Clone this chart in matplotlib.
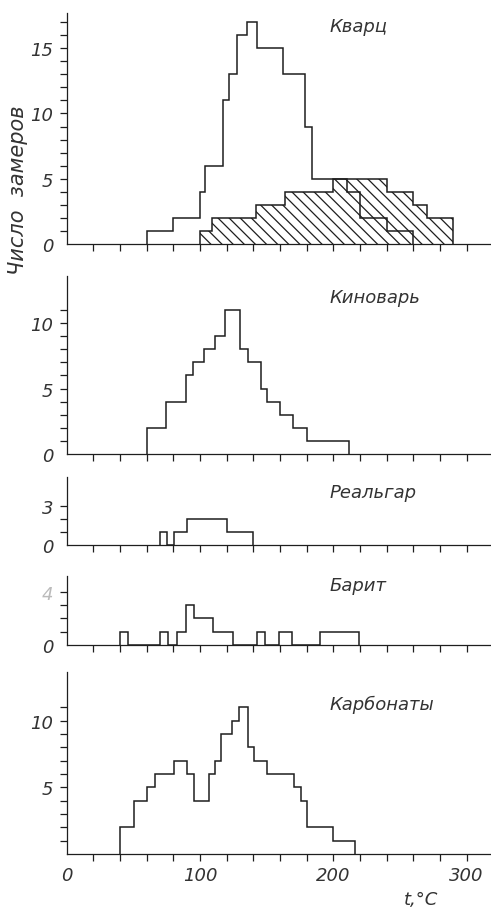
import matplotlib
matplotlib.use("Agg")
import matplotlib.pyplot as plt
import numpy as np

# Гистограммы температур гомогенизации включений по минералам
plt.rcParams['font.family'] = ['DejaVu Sans']
plt.rcParams['hatch.color'] = '#222222'
plt.rcParams['hatch.linewidth'] = 0.9

# Кварц (светлый) и кварц поздний (штриховка)
quartz_edges = [60, 80, 100, 104, 117.5, 122, 127.5, 135, 143, 162, 179, 184, 210, 220, 240, 260]
quartz_counts = [1, 2, 4, 6, 11, 13, 16, 17, 15, 13, 9, 5, 4, 2, 1]
quartz2_edges = [100, 109, 142, 164, 200, 240, 260, 270, 290]
quartz2_counts = [1, 2, 3, 4, 5, 4, 3, 2]

cinnabar_edges = [60, 74.5, 89.5, 94.5, 103, 111, 119, 130, 136, 145.5, 150.5, 160, 170, 180.5, 211.5]
cinnabar_counts = [2, 4, 6, 7, 8, 9, 11, 8, 7, 5, 4, 3, 2, 1]

realgar_edges = [70, 75.5, 80.5, 90, 120, 140]
realgar_counts = [1, 0, 1, 2, 1]

barite_edges = [40, 46, 70, 76, 82.5, 89.5, 95.5, 109.5, 124.5, 142.5, 149, 159.5, 169, 190, 219]
barite_counts = [1, 0, 1, 0, 1, 3, 2, 1, 0, 1, 0, 1, 0, 1]

carb_edges = [40, 50.5, 60.5, 66.5, 80.5, 90, 95.5, 106.5, 111, 115.5, 124, 129.5, 136, 140.5, 150,
              170.5, 176, 180, 200, 216]
carb_counts = [2, 4, 5, 6, 7, 6, 4, 6, 7, 9, 10, 11, 8, 7, 6, 5, 4, 2, 1]

names = ["Кварц", "Киноварь", "Реальгар", "Барит", "Карбонаты"]
x_labels = [0, 100, 200, 300]

ink = '#1e1e1e'
hatch = chr(92) * 3  # наклонная штриховка
txt = dict(style='oblique', color='#333333', fontsize=13)

W, H = 491, 912
fig = plt.figure(figsize=(W / 100, H / 100), dpi=100)

def panel(bot_px, top_px, ytop, yminor, ylabels, title, title_y):
    ax = fig.add_axes([66.7 / W, 1 - bot_px / H, (490 - 66.7) / W, (bot_px - top_px) / H])
    ax.set_xlim(0, 317.5)
    ax.set_ylim(0, ytop)
    for s in ['top', 'right']:
        ax.spines[s].set_visible(False)
    for s in ['left', 'bottom']:
        ax.spines[s].set_color(ink)
        ax.spines[s].set_linewidth(0.9)
    ax.xaxis.remove_overlapping_locs = False
    ax.yaxis.remove_overlapping_locs = False
    ax.set_xticks(np.arange(20, 301, 20), minor=True)
    ax.set_yticks(yminor, minor=True)
    ax.set_xticks(x_labels)
    ax.set_xticklabels([])
    ax.set_yticks(ylabels)
    ax.set_yticklabels([str(v) for v in ylabels], **txt)
    ax.tick_params(which='minor', length=5, width=0.9, color=ink, direction='out')
    ax.tick_params(which='major', length=0, pad=9.5)
    ax.text(197, title_y, title, va='center', ha='left', **txt)
    return ax

ax1 = panel(245, 14, 17.7, range(1, 18), [0, 5, 10, 15], names[0], 16.7)
ax1.stairs(quartz2_counts, quartz2_edges, fill=True, facecolor='none', edgecolor=ink,
           hatch=hatch, linewidth=1.1, clip_on=False)
ax1.stairs(quartz_counts, quartz_edges, color=ink, linewidth=1.1, clip_on=False)

ax2 = panel(455, 277, 13.6, range(1, 12), [0, 5, 10], names[1], 12.0)
ax2.stairs(cinnabar_counts, cinnabar_edges, color=ink, linewidth=1.1, clip_on=False)

ax3 = panel(545.7, 478, 5.2, range(1, 4), [0, 3], names[2], 4.05)
ax3.stairs(realgar_counts, realgar_edges, color=ink, linewidth=1.1, clip_on=False)

ax4 = panel(646, 577, 5.2, range(1, 5), [0, 4], names[3], 4.5)
ax4.get_yticklabels()[1].set_color('#bbbbbb')
ax4.stairs(barite_counts, barite_edges, color=ink, linewidth=1.1, clip_on=False)

ax5 = panel(855, 673, 13.65, range(1, 12), [5, 10], names[4], 11.25)
ax5.stairs(carb_counts, carb_edges, color=ink, linewidth=1.1, clip_on=False)
ax5.set_xticklabels([str(v) for v in x_labels], **txt)
ax5.tick_params(axis='x', which='major', pad=9)

fig.text(421 / W, 1 - 900 / H, "t,°C", ha='center', va='center', **txt)
fig.text(18 / W, 1 - 190 / H, "Число  замеров", rotation=90, ha='center', va='center',
         style='oblique', color='#333333', fontsize=15)

fig.savefig("out.png", dpi=100, facecolor='white')
